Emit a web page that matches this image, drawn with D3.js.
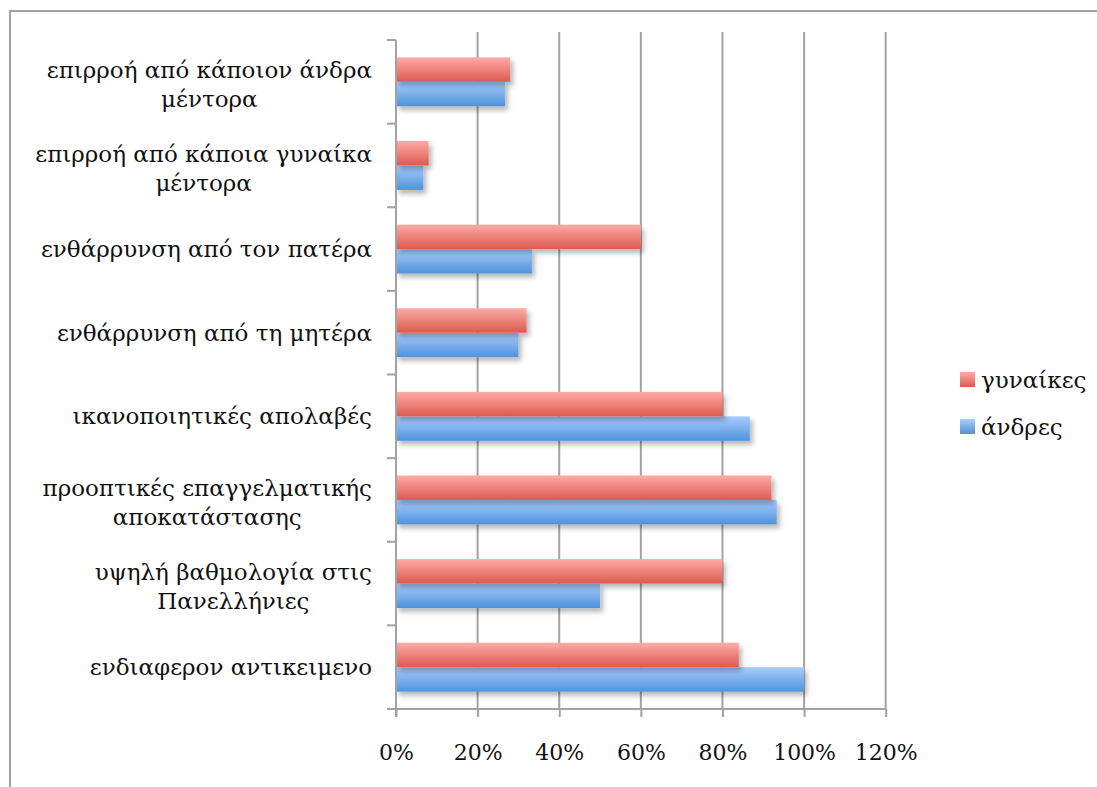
<!DOCTYPE html>
<html>
<head>
<meta charset="utf-8">
<script src="https://cdn.jsdelivr.net/npm/d3@7"></script>
<style>
  html, body { margin: 0; padding: 0; background: #fff; }
  svg { display: block; }
  text { font-family: "DejaVu Serif", serif; fill: #111; }
</style>
</head>
<body>
<svg id="chart" width="1097" height="787"></svg>
<script>
// Categories, listed from top to bottom; "\n" marks a wrapped label line
const categories = [
  "επιρροή από κάποιον άνδρα\nμέντορα",
  "επιρροή από κάποια γυναίκα\nμέντορα",
  "ενθάρρυνση από τον πατέρα",
  "ενθάρρυνση από τη μητέρα",
  "ικανοποιητικές απολαβές",
  "προοπτικές επαγγελματικής\nαποκατάστασης",
  "υψηλή βαθμολογία στις\nΠανελλήνιες",
  "ενδιαφερον αντικειμενο"
];
const seriesNames = ["γυναίκες", "άνδρες"];
const women = [0.28, 0.08, 0.60, 0.32, 0.80, 0.92, 0.80, 0.84];
const men   = [0.267, 0.067, 0.333, 0.30, 0.867, 0.933, 0.50, 1.00];
const xTicks = [0, 0.2, 0.4, 0.6, 0.8, 1.0, 1.2];

const svg = d3.select("#chart");
const plotLeft = 396, plotRight = 885.7, plotTop = 40, plotBottom = 709;
const grid = "#a2a2a2";
const fontFamily = '"DejaVu Serif", serif';

// outer frame
svg.append("rect")
  .attr("x", 10).attr("y", 11).attr("width", 1200).attr("height", 1000)
  .attr("fill", "none").attr("stroke", "#a0a0a0").attr("stroke-width", 2);

const defs = svg.append("defs");
const grads = [
  { id: "gradW", top: "#ffaba7", bottom: "#dc5a4e" },
  { id: "gradM", top: "#a9cdfd", bottom: "#4e93db" }
];
grads.forEach(g => {
  const lg = defs.append("linearGradient").attr("id", g.id)
    .attr("x1", 0).attr("y1", 0).attr("x2", 0).attr("y2", 1);
  lg.append("stop").attr("offset", "0%").attr("stop-color", g.top);
  lg.append("stop").attr("offset", "100%").attr("stop-color", g.bottom);
});
const shadow = defs.append("filter").attr("id", "shadow")
  .attr("x", "-10%").attr("y", "-30%").attr("width", "130%").attr("height", "180%");
shadow.append("feDropShadow").attr("dx", 3).attr("dy", 4).attr("stdDeviation", 2.5)
  .attr("flood-color", "#000").attr("flood-opacity", 0.28);

const x = d3.scaleLinear().domain([0, 1.2]).range([plotLeft, plotRight]);
const y = d3.scaleBand().domain(categories).range([plotTop, plotBottom]).padding(0);
const sub = d3.scaleBand().domain(seriesNames).range([0, y.bandwidth()])
  .paddingInner(0).paddingOuter(0.71);

// vertical gridlines
svg.append("g").selectAll("line").data(xTicks.slice(1)).join("line")
  .attr("x1", d => x(d)).attr("x2", d => x(d))
  .attr("y1", plotTop - 8).attr("y2", plotBottom)
  .attr("stroke", grid).attr("stroke-width", 2);

// bars
const series = [
  { name: seriesNames[0], values: women, fill: "url(#gradW)" },
  { name: seriesNames[1], values: men, fill: "url(#gradM)" }
];
const barG = svg.append("g");
series.slice().reverse().forEach(s => {
  barG.append("g").attr("filter", "url(#shadow)")
    .selectAll("rect").data(categories).join("rect")
    .attr("x", x(0))
    .attr("y", c => y(c) + sub(s.name))
    .attr("width", (c, i) => x(s.values[i]) - x(0))
    .attr("height", sub.bandwidth())
    .attr("fill", s.fill);
});

// x axis
const xAxis = d3.axisBottom(x).tickValues(xTicks).tickFormat(d3.format(".0%"))
  .tickSize(8).tickPadding(27);
const gx = svg.append("g").attr("transform", `translate(0,${plotBottom})`).call(xAxis);
gx.select(".domain").attr("stroke", grid).attr("stroke-width", 2)
  .attr("d", `M${plotLeft - 9},0H${plotRight}`);
gx.selectAll(".tick line").attr("stroke", grid).attr("stroke-width", 2);
gx.selectAll(".tick text").style("font-family", fontFamily)
  .style("font-size", "22px").attr("fill", "#111");

// y axis line with ticks at band boundaries
const bounds = categories.map(c => y(c)).concat([plotBottom]);
svg.append("line").attr("x1", plotLeft).attr("x2", plotLeft)
  .attr("y1", plotTop).attr("y2", plotBottom + 8)
  .attr("stroke", grid).attr("stroke-width", 2);
svg.append("g").selectAll("line").data(bounds).join("line")
  .attr("x1", plotLeft - 9).attr("x2", plotLeft).attr("y1", d => d).attr("y2", d => d)
  .attr("stroke", grid).attr("stroke-width", 2);

// category labels: block right-aligned, lines centred within block
const fs = 23, lh = 29, labelRight = 372;
const labG = svg.append("g");
categories.forEach(c => {
  const lines = c.split("\n");
  const g = labG.append("g");
  const texts = lines.map((ln, i) => g.append("text")
    .attr("font-size", fs)
    .attr("y", y(c) + y.bandwidth() / 2 + (i - (lines.length - 1) / 2) * lh + 8 + (lines.length > 1 ? 3 : 0))
    .attr("text-anchor", "middle")
    .text(ln));
  const w = d3.max(texts, t => t.node().getComputedTextLength());
  texts.forEach(t => t.attr("x", labelRight - w / 2));
});

// legend
const leg = svg.append("g");
series.forEach((s, i) => {
  const ly = 372 + i * 47;
  leg.append("rect").attr("x", 960).attr("y", ly).attr("width", 15).attr("height", 15)
    .attr("fill", s.fill);
  leg.append("text").attr("x", 981).attr("y", ly + 16).attr("font-size", fs).text(s.name);
});
</script>
</body>
</html>
